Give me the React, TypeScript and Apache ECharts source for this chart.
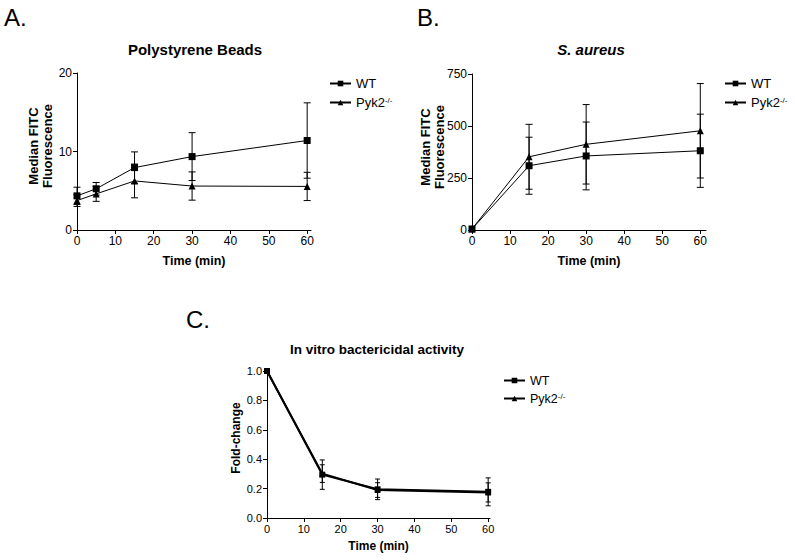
import React, { useEffect, useRef } from "react";
import * as echarts from "echarts";

// ---------- data ----------
const timeA = [0, 5, 15, 30, 60];
const wtA = [4.35, 5.25, 7.95, 9.35, 11.4];
const wtAErr = [1.1, 0.8, 2.0, 3.05, 4.8];
const pykA = [3.75, 4.6, 6.25, 5.6, 5.55];
const pykAErr = [0.75, 0.95, 2.15, 1.8, 1.8];

const timeB = [0, 15, 30, 60];
const wtB = [5, 309, 356, 381];
const wtBErr = [0, 137, 163, 176];
const pykB = [5, 352, 412, 477];
const pykBErr = [0, 156, 191, 227];

const timeC = [0, 15, 30, 60];
const wtC = [1.0, 0.295, 0.195, 0.178];
const wtCErr = [0, 0.1, 0.07, 0.095];
const pykC = [1.0, 0.302, 0.19, 0.174];
const pykCErr = [0, 0.06, 0.05, 0.065];

const xTicksA = [0, 10, 20, 30, 40, 50, 60];
const xTicksB = [0, 10, 20, 30, 40, 50, 60];
const xTicksC = [0, 10, 20, 30, 40, 50, 60];

const seriesNames = ["WT", "Pyk2"];
const titles = ["Polystyrene Beads", "S. aureus", "In vitro bactericidal activity"];
const panelLetters = ["A.", "B.", "C."];
const yTitleLines = ["Median FITC", "Fluorescence"];
const yTitleC = "Fold-change";
const xTitle = "Time (min)";

const FONT = "'Liberation Sans', Arial, Helvetica, sans-serif";

function pairs(xs: number[], ys: number[]) {
  return xs.map((x, i) => [x, ys[i]]);
}
function triples(xs: number[], ys: number[], es: number[]) {
  return xs.map((x, i) => [x, ys[i], es[i]]);
}

function errSeries(idx: number, data: number[][], capW: number, name: string) {
  return {
    type: "custom",
    name,
    xAxisIndex: idx,
    yAxisIndex: idx,
    encode: { x: 0, y: 1 },
    silent: true,
    z: 1,
    data,
    renderItem: (params: any, api: any) => {
      const x = api.value(0);
      const y = api.value(1);
      const e = api.value(2);
      if (!e) return { type: "group", children: [] };
      const hi = api.coord([x, y + e]);
      const lo = api.coord([x, y - e]);
      const hw = capW / 2;
      const st = { stroke: "#000", lineWidth: 1 };
      return {
        type: "group",
        children: [
          { type: "line", shape: { x1: hi[0], y1: hi[1], x2: lo[0], y2: lo[1] }, style: st },
          { type: "line", shape: { x1: hi[0] - hw, y1: hi[1], x2: hi[0] + hw, y2: hi[1] }, style: st },
          { type: "line", shape: { x1: lo[0] - hw, y1: lo[1], x2: lo[0] + hw, y2: lo[1] }, style: st },
        ],
      };
    },
  };
}

function lineSeries(idx: number, name: string, data: number[][], symbol: string, size: number, lw: number) {
  return {
    type: "line",
    name,
    xAxisIndex: idx,
    yAxisIndex: idx,
    data,
    symbol,
    symbolSize: size,
    showSymbol: true,
    lineStyle: { color: "#000", width: lw },
    itemStyle: { color: "#000", borderWidth: 0 },
    z: 3,
  };
}

function xAxis(idx: number, max: number, ticks: number[], fs: number, nameFs: number, nameGap: number) {
  return {
    gridIndex: idx,
    type: "value",
    min: 0,
    max,
    axisLine: { show: true, onZero: false, lineStyle: { color: "#000", width: 1 } },
    axisTick: { show: true, length: 4, customValues: ticks, lineStyle: { color: "#000", width: 1 } },
    axisLabel: { customValues: ticks, color: "#000", fontSize: fs, fontFamily: FONT, margin: 5 },
    splitLine: { show: false },
    name: xTitle,
    nameLocation: "middle",
    nameGap,
    nameTextStyle: { color: "#000", fontSize: nameFs, fontWeight: "bold", fontFamily: FONT },
  };
}

function yAxis(idx: number, max: number, interval: number, fs: number, fmt?: (v: number) => string) {
  return {
    gridIndex: idx,
    type: "value",
    min: 0,
    max,
    interval,
    axisLine: { show: true, lineStyle: { color: "#000", width: 1 } },
    axisTick: { show: true, length: 4, lineStyle: { color: "#000", width: 1 } },
    axisLabel: {
      color: "#000",
      fontSize: fs,
      fontFamily: FONT,
      margin: 5,
      formatter: fmt ? (v: number) => fmt(v) : undefined,
    },
    splitLine: { show: false },
  };
}

function legend(left: number, top: number, gap: number, fs: number) {
  return {
    left,
    top,
    orient: "vertical",
    padding: 0,
    itemWidth: 21,
    itemHeight: 7,
    itemGap: gap,
    data: seriesNames,
    selectedMode: false,
    formatter: (n: string) => (n === "Pyk2" ? "Pyk2{sup|-/-}" : n),
    textStyle: {
      color: "#000",
      fontSize: fs,
      fontFamily: FONT,
      rich: { sup: { fontSize: 8, verticalAlign: "top", fontFamily: FONT, color: "#000" } },
    },
  };
}

function txt(x: number, y: number, text: string, font: string, align = "center", rotation = 0) {
  return {
    type: "text",
    x,
    y,
    rotation,
    style: {
      text,
      font,
      fill: "#000",
      textAlign: align,
      textVerticalAlign: "middle",
    },
  };
}

export default function App() {
  const ref = useRef<HTMLDivElement>(null);
  useEffect(() => {
    document.body.style.margin = "0";
    if (!ref.current) return;
    const chart = echarts.init(ref.current, undefined, { renderer: "svg" });
    const option: any = {
      animation: false,
      backgroundColor: "#fff",
      grid: [
        { left: 77, top: 73, width: 234, height: 157 },
        { left: 472, top: 74, width: 234, height: 156 },
        { left: 267, top: 371, width: 223, height: 147 },
      ],
      xAxis: [
        xAxis(0, 61, xTicksA, 12, 12.5, 24),
        xAxis(1, 61.5, xTicksB, 12, 12.5, 24),
        xAxis(2, 60.5, xTicksC, 11, 12, 22),
      ],
      yAxis: [
        yAxis(0, 20, 10, 12),
        yAxis(1, 750, 250, 12),
        yAxis(2, 1.0, 0.2, 11, (v) => v.toFixed(1)),
      ],
      legend: [legend(329, 77, 6, 13), legend(724, 77, 6, 13), legend(503, 374, 5, 12.5)],
      series: [
        lineSeries(0, "WT", pairs(timeA, wtA), "rect", 7, 1),
        lineSeries(0, "Pyk2", pairs(timeA, pykA), "triangle", 7, 1),
        errSeries(0, triples(timeA, wtA, wtAErr), 7, "WT err"),
        errSeries(0, triples(timeA, pykA, pykAErr), 7, "Pyk2 err"),
        lineSeries(1, "WT", pairs(timeB, wtB), "rect", 7, 1),
        lineSeries(1, "Pyk2", pairs(timeB, pykB), "triangle", 7, 1),
        errSeries(1, triples(timeB, wtB, wtBErr), 7, "WT err"),
        errSeries(1, triples(timeB, pykB, pykBErr), 7, "Pyk2 err"),
        lineSeries(2, "WT", pairs(timeC, wtC), "rect", 6, 2),
        lineSeries(2, "Pyk2", pairs(timeC, pykC), "triangle", 6, 2),
        errSeries(2, triples(timeC, wtC, wtCErr), 5, "WT err"),
        errSeries(2, triples(timeC, pykC, pykCErr), 5, "Pyk2 err"),
      ],
      graphic: [
        txt(4, 17, panelLetters[0], `24px ${FONT}`, "left"),
        txt(417, 17, panelLetters[1], `24px ${FONT}`, "left"),
        txt(186, 319, panelLetters[2], `24px ${FONT}`, "left"),
        txt(195, 49, titles[0], `bold 15px ${FONT}`),
        txt(591, 49, titles[1], `italic bold 15px ${FONT}`),
        txt(377, 349, titles[2], `bold 13.5px ${FONT}`),
        txt(33, 146, yTitleLines[0], `bold 13px ${FONT}`, "center", Math.PI / 2),
        txt(47, 146, yTitleLines[1], `bold 13px ${FONT}`, "center", Math.PI / 2),
        txt(425, 147, yTitleLines[0], `bold 13px ${FONT}`, "center", Math.PI / 2),
        txt(439, 147, yTitleLines[1], `bold 13px ${FONT}`, "center", Math.PI / 2),
        txt(236, 438, yTitleC, `bold 12px ${FONT}`, "center", Math.PI / 2),
      ],
    };
    chart.setOption(option);
    return () => chart.dispose();
  }, []);
  return <div ref={ref} style={{ width: 795, height: 560 }} />;
}
